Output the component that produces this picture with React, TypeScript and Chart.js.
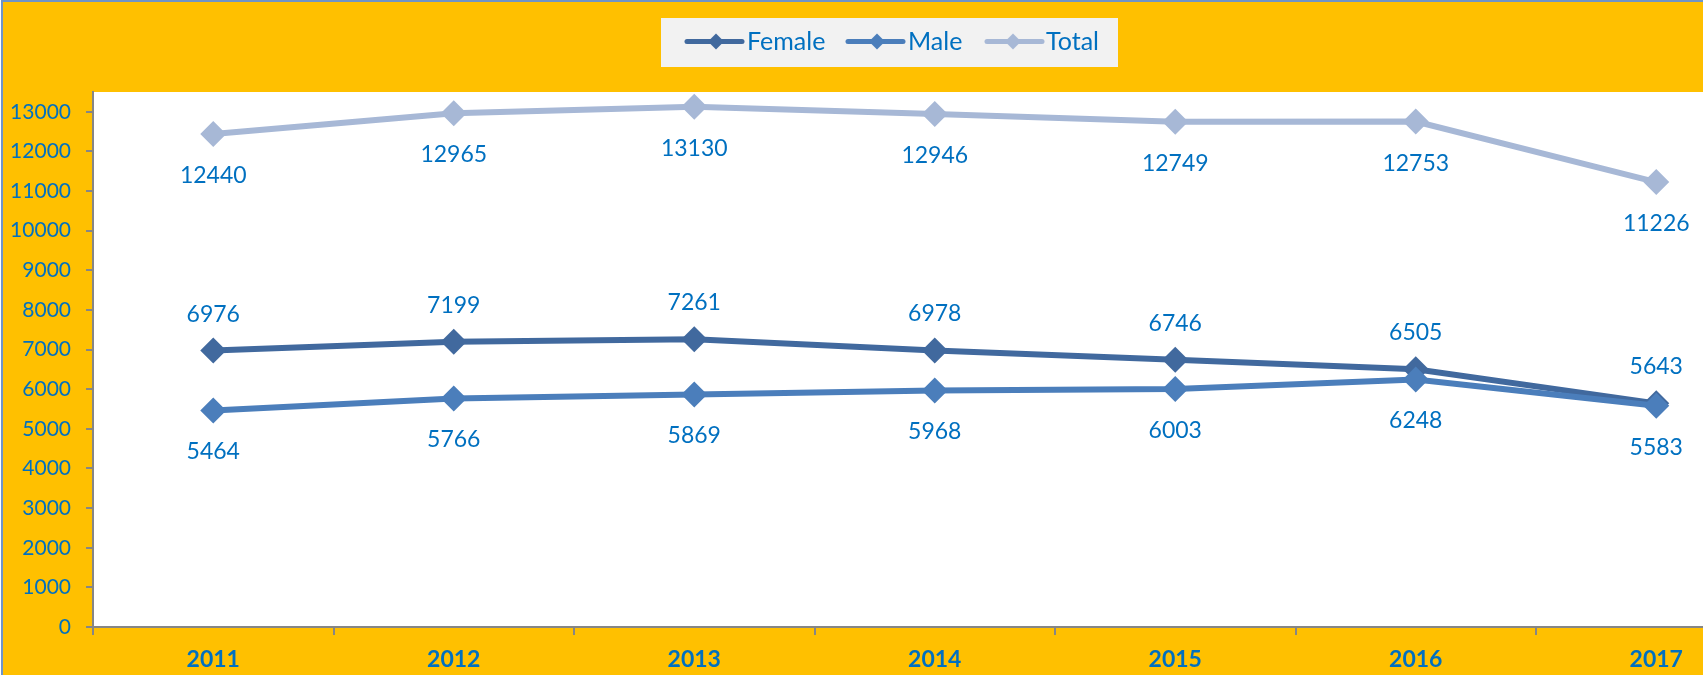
import { useEffect, useRef } from "react";
import { Chart, registerables } from "chart.js";

Chart.register(...registerables);

const years = ["2011", "2012", "2013", "2014", "2015", "2016", "2017"];
const female = [6976, 7199, 7261, 6978, 6746, 6505, 5643];
const male = [5464, 5766, 5869, 5968, 6003, 6248, 5583];
const total = [12440, 12965, 13130, 12946, 12749, 12753, 11226];
const seriesNames = ["Female", "Male", "Total"];
const seriesColors = ["#41699E", "#4B7EBB", "#A7B8D6"];
const labelOffsets = [-37, 41, 41];
const yTickValues = [0, 1000, 2000, 3000, 4000, 5000, 6000, 7000, 8000, 9000, 10000, 11000, 12000, 13000];
const yMax = 13500;

const TEXT_BLUE = "#0070C0";
const AXIS_GRAY = "#868686";
const FONT = "Lato, 'Open Sans', sans-serif";

const CANVAS_W = 1800;
const CANVAS_H = 675;

const backgroundPlugin = {
  id: "bgPlugin",
  beforeDraw(chart: any) {
    const { ctx, chartArea } = chart;
    ctx.save();
    ctx.fillStyle = "#FFFFFF";
    ctx.fillRect(0, 0, CANVAS_W, CANVAS_H);
    ctx.fillStyle = "#FFC000";
    ctx.fillRect(3, 2, CANVAS_W, CANVAS_H);
    ctx.fillStyle = "#6F94C8";
    ctx.fillRect(1, 0, 2, CANVAS_H);
    ctx.fillRect(1, 0, CANVAS_W, 2);
    ctx.fillStyle = "#FFFFFF";
    ctx.fillRect(chartArea.left, chartArea.top, CANVAS_W - chartArea.left, chartArea.bottom - chartArea.top);
    ctx.restore();
  },
};

const dataLabelPlugin = {
  id: "dataLabels",
  afterDatasetsDraw(chart: any) {
    const { ctx } = chart;
    ctx.save();
    ctx.font = `23px ${FONT}`;
    ctx.fillStyle = TEXT_BLUE;
    ctx.textAlign = "center";
    ctx.textBaseline = "alphabetic";
    chart.data.datasets.forEach((ds: any, di: number) => {
      const meta = chart.getDatasetMeta(di);
      meta.data.forEach((pt: any, i: number) => {
        const v = ds.data[i];
        ctx.fillText(String(v), pt.x, pt.y + labelOffsets[di] + 8);
      });
    });
    ctx.restore();
  },
};

const legendPlugin = {
  id: "customLegend",
  afterDraw(chart: any) {
    const { ctx } = chart;
    ctx.save();
    ctx.fillStyle = "#F2F2F2";
    ctx.fillRect(661, 18, 457, 49);
    const items = [
      { lx1: 687, lx2: 742, cx: 716, tx: 747 },
      { lx1: 848, lx2: 903, cx: 877, tx: 908 },
      { lx1: 987, lx2: 1042, cx: 1013, tx: 1046 },
    ];
    const ly = 41.5;
    items.forEach((it, i) => {
      ctx.strokeStyle = seriesColors[i];
      ctx.lineWidth = 5;
      ctx.lineCap = "round";
      ctx.beginPath();
      ctx.moveTo(it.lx1, ly);
      ctx.lineTo(it.lx2, ly);
      ctx.stroke();
      ctx.fillStyle = seriesColors[i];
      const r = 8;
      ctx.beginPath();
      ctx.moveTo(it.cx, ly - r);
      ctx.lineTo(it.cx + r, ly);
      ctx.lineTo(it.cx, ly + r);
      ctx.lineTo(it.cx - r, ly);
      ctx.closePath();
      ctx.fill();
      ctx.fillStyle = TEXT_BLUE;
      ctx.font = `25px ${FONT}`;
      ctx.textAlign = "left";
      ctx.textBaseline = "alphabetic";
      ctx.fillText(seriesNames[i], it.tx, 50);
    });
    ctx.restore();
  },
};

export default function App() {
  const ref = useRef<HTMLCanvasElement | null>(null);

  useEffect(() => {
    const canvas = ref.current;
    if (!canvas) return;
    const seriesData = [female, male, total];
    const orders = [1, 0, 2];
    const chart = new Chart(canvas, {
      type: "line",
      data: {
        labels: years,
        datasets: seriesNames.map((name, i) => ({
          label: name,
          data: seriesData[i],
          borderColor: seriesColors[i],
          backgroundColor: seriesColors[i],
          borderWidth: 6,
          pointStyle: "rectRot",
          pointRadius: 13,
          pointBorderWidth: 0,
          pointBackgroundColor: seriesColors[i],
          pointBorderColor: seriesColors[i],
          tension: 0,
          fill: false,
          order: orders[i],
        })),
      },
      options: {
        responsive: false,
        animation: false,
        devicePixelRatio: 1,
        events: [],
        layout: { padding: { top: 92, left: 0, right: CANVAS_W - 1776.5, bottom: 0 } },
        plugins: {
          legend: { display: false },
          tooltip: { enabled: false },
          title: { display: false },
        },
        scales: {
          x: {
            type: "category",
            offset: true,
            grid: {
              display: true,
              offset: true,
              drawOnChartArea: false,
              drawTicks: true,
              tickLength: 8,
              color: AXIS_GRAY,
              lineWidth: 2,
            },
            border: { display: true, color: AXIS_GRAY, width: 2 },
            ticks: {
              color: TEXT_BLUE,
              font: { family: FONT, size: 23, weight: "bold" },
              padding: 11,
              maxRotation: 0,
              autoSkip: false,
            },
            afterFit(scale: any) {
              scale.height = 48;
            },
          },
          y: {
            type: "linear",
            min: 0,
            max: yMax,
            grid: {
              display: true,
              drawOnChartArea: false,
              drawTicks: true,
              tickLength: 7,
              color: AXIS_GRAY,
              lineWidth: 2,
            },
            border: { display: true, color: AXIS_GRAY, width: 2 },
            ticks: {
              color: TEXT_BLUE,
              font: { family: FONT, size: 21 },
              padding: 15,
              autoSkip: false,
              callback: (v: any) => String(v),
            },
            afterBuildTicks(scale: any) {
              scale.ticks = yTickValues.map((value) => ({ value }));
            },
            afterFit(scale: any) {
              scale.width = 93;
            },
          },
        },
      },
      plugins: [backgroundPlugin, dataLabelPlugin, legendPlugin],
    } as any);
    return () => chart.destroy();
  }, []);

  return (
    <div
      style={{
        position: "fixed",
        left: 0,
        top: 0,
        width: 1703,
        height: 675,
        overflow: "hidden",
        background: "#fff",
      }}
    >
      <canvas
        ref={ref}
        width={CANVAS_W}
        height={CANVAS_H}
        style={{ display: "block", width: CANVAS_W, height: CANVAS_H }}
      />
    </div>
  );
}
